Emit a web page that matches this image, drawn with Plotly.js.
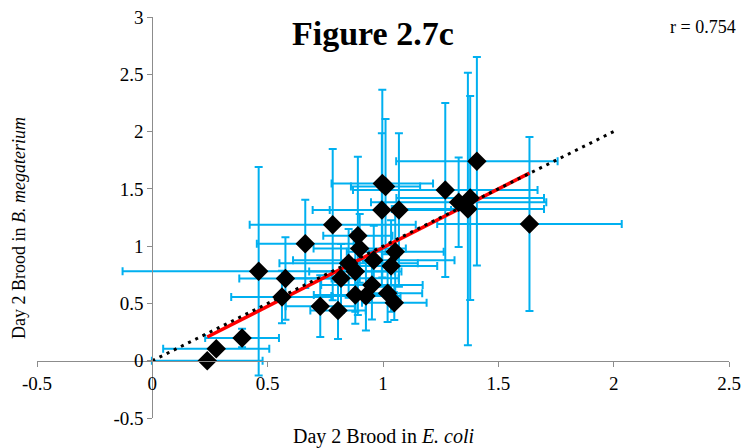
<!DOCTYPE html>
<html>
<head>
<meta charset="utf-8">
<script src="https://cdn.plot.ly/plotly-3.0.1.min.js"></script>
<style>html,body{margin:0;padding:0;background:#fff;}#chart{width:745px;height:448px;}</style>
</head>
<body>
<div id="chart"></div>
<script>
// Day 2 brood: E. coli (x) vs B. megaterium (y)
const broodEcoli = [0.238,0.277,0.389,0.461,0.577,0.562,0.663,0.728,0.782,0.805,0.818,0.851,0.880,0.880,0.891,0.899,0.926,0.952,0.960,0.995,0.997,1.011,1.020,1.035,1.049,1.053,1.069,1.270,1.328,1.368,1.378,1.407,1.635];
const broodBmeg   = [0.000,0.105,0.198,0.780,0.717,0.556,1.020,0.476,1.187,0.439,0.719,0.850,0.778,0.573,1.090,0.980,0.564,0.660,0.877,1.316,1.546,1.520,0.588,0.827,0.506,0.950,1.316,1.490,1.383,1.324,1.420,1.740,1.193];
const errEcoli    = [0.24,0.23,0.16,0.59,0.20,0.22,0.21,0.15,0.36,0.12,0.25,0.30,0.20,0.18,0.15,0.20,0.15,0.22,0.35,0.30,0.22,0.15,0.15,0.20,0.14,0.21,0.30,0.40,0.38,0.33,0.32,0.35,0.40];
const errBmeg     = [0.02,0.03,0.08,0.91,0.36,0.23,0.385,0.27,0.66,0.25,0.30,0.30,0.35,0.25,0.69,0.30,0.30,0.30,0.30,0.67,0.82,0.59,0.25,0.40,0.15,0.40,0.67,0.76,0.39,1.19,0.89,0.91,0.76];
// fitted regression line (end points) and 1:1 reference line
const fitX = [0.238,1.635];
const fitY = [0.207,1.637];
const oneToOneX = [0,2];
const oneToOneY = [0,2];
const xTicks = [-0.5,0,0.5,1,1.5,2,2.5];
const xTickText = ['-0.5','0','0.5','1','1.5','2','2.5'];
const yTicks = [-0.5,0,0.5,1,1.5,2,2.5,3];
const yTickText = ['-0.5','0','0.5','1','1.5','2','2.5','3'];

const serif = 'Liberation Serif, Times New Roman, serif';
const traces = [
  {x: broodEcoli, y: broodBmeg, type:'scatter', mode:'markers',
   marker:{opacity:0, size:2},
   error_x:{type:'data', array: errEcoli, visible:true, color:'#00b0f0', thickness:2, width:4},
   error_y:{type:'data', array: errBmeg, visible:true, color:'#00b0f0', thickness:2, width:4},
   hoverinfo:'skip', showlegend:false},
  {x: fitX, y: fitY, type:'scatter', mode:'lines', line:{color:'#ff0000', width:3.5}, showlegend:false},
  {x: oneToOneX, y: oneToOneY, type:'scatter', mode:'lines', line:{color:'#000000', width:3, dash:'3px,5px'}, showlegend:false},
  {x: broodEcoli, y: broodBmeg, type:'scatter', mode:'markers',
   marker:{symbol:'diamond', size:15, color:'#000000'}, showlegend:false}
];

const layout = {
  width:745, height:448,
  margin:{l:37, r:16, t:17, b:30},
  paper_bgcolor:'#ffffff', plot_bgcolor:'#ffffff',
  font:{family: serif, size:19, color:'#000'},
  showlegend:false,
  xaxis:{range:[-0.5,2.5], anchor:'free', position:0.5/3.5, showgrid:false, zeroline:false,
         showline:true, linecolor:'#8c8c8c', linewidth:1, ticks:'outside', ticklen:5, tickcolor:'#8c8c8c',
         tickvals:xTicks, ticktext:xTickText, tickfont:{family:serif, size:19}},
  yaxis:{range:[-0.5,3], anchor:'free', position:0.5/3, showgrid:false, zeroline:false,
         showline:true, linecolor:'#8c8c8c', linewidth:1, ticks:'outside', ticklen:5, tickcolor:'#8c8c8c',
         tickvals:yTicks, ticktext:yTickText, tickfont:{family:serif, size:19}},
  annotations:[
    {text:'<b>Figure 2.7c</b>', xref:'paper', yref:'paper', x:0.486, y:0.96, showarrow:false,
     font:{family:serif, size:34, color:'#000'}, xanchor:'center', yanchor:'middle'},
    {text:'r = 0.754', xref:'paper', yref:'paper', x:1.013, y:0.975, showarrow:false,
     font:{family:serif, size:18, color:'#000'}, xanchor:'right', yanchor:'middle'},
    {text:'Day 2 Brood in <i>E. coli</i>', xref:'paper', yref:'paper', x:0.5, y:-0.047, showarrow:false,
     font:{family:serif, size:20, color:'#000'}, xanchor:'center', yanchor:'middle'},
    {text:'Day 2 Brood in <i>B. megaterium</i>', xref:'paper', yref:'paper', x:-0.026, y:0.474, showarrow:false,
     textangle:-90, font:{family:serif, size:18, color:'#000'}, xanchor:'center', yanchor:'middle'}
  ]
};
Plotly.newPlot('chart', traces, layout, {displayModeBar:false, staticPlot:true});
</script>
</body>
</html>
